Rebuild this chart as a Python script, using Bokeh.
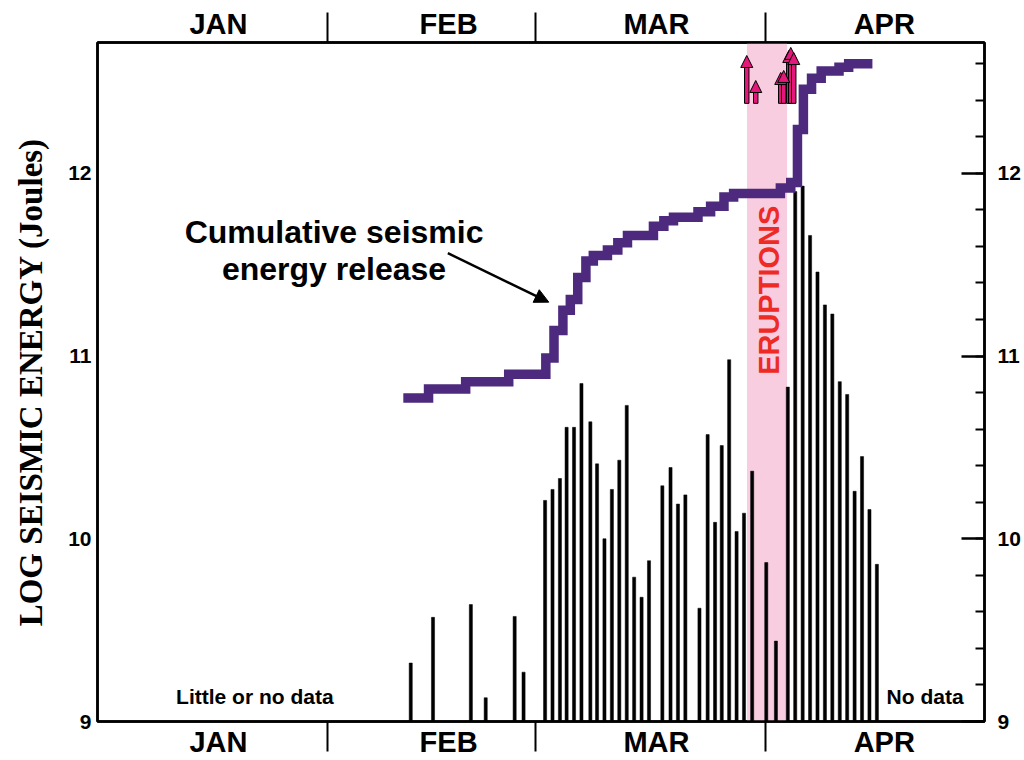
import numpy as np
from bokeh.plotting import figure
from bokeh.models import (Range1d, LinearAxis, FixedTicker, SingleIntervalTicker,
                          ColumnDataSource, Arrow, NormalHead, BoxAnnotation)
from bokeh.core.properties import value
from bokeh.embed import file_html
from bokeh.resources import INLINE

# ---------------- data (x = days counted from 1 January) ----------------
month_names = ["JAN", "FEB", "MAR", "APR"]
month_label_days = [16.3, 47.3, 75.3, 106.0]
month_boundaries = [31, 59, 90]

feb_days = [42.2, 45.2, 50.3, 52.3, 56.2, 57.4]
feb_values = [9.32, 9.57, 9.64, 9.13, 9.575, 9.27]

mar_days = [60.3, 61.3, 62.3, 63.2, 64.2, 65.2, 66.4, 67.3, 68.3, 69.3, 70.3,
            71.3, 72.3, 73.3, 74.3, 76.1, 77.2, 78.2, 79.2, 81.1, 82.2, 83.2,
            84.1, 85.1, 86.1, 87.1, 88.2, 90.1, 91.4]
mar_values = [10.21, 10.27, 10.33, 10.61, 10.61, 10.85, 10.64, 10.41, 10.00,
              10.27, 10.43, 10.73, 9.79, 9.68, 9.88, 10.29, 10.39, 10.19, 10.24,
              9.62, 10.57, 10.09, 10.51, 10.98, 10.04, 10.14, 10.37, 9.87, 9.44]

apr_days = [93.0, 94.0, 95.0, 96.0, 97.0, 98.0, 99.0, 100.0, 101.0, 102.0,
            103.0, 104.0, 105.0]
apr_values = [10.83, 11.90, 11.93, 11.66, 11.46, 11.28, 11.23, 10.86, 10.79,
              10.26, 10.45, 10.16, 9.86]

cum_days = [41.2, 44.6, 49.6, 55.4, 60.4, 61.5, 62.7, 63.7, 64.7, 65.8, 66.8,
            68.7, 70.1, 71.4, 74.9, 76.3, 77.6, 80.9, 82.6, 84.4, 85.7, 92.0,
            93.4, 94.3, 95.1, 96.2, 97.5, 99.9, 101.2, 104.4]
cum_values = [10.77, 10.82, 10.86, 10.90, 10.99, 11.14, 11.25, 11.31, 11.43,
              11.52, 11.55, 11.58, 11.62, 11.66, 11.71, 11.74, 11.76, 11.79,
              11.82, 11.87, 11.89, 11.92, 11.95, 12.24, 12.46, 12.52, 12.56,
              12.58, 12.60, 12.60]

eruption_start = 87.5
eruption_end = 92.9
eruption_arrow_days = [87.47, 88.68, 92.05, 92.45, 93.13, 93.40, 93.80]
eruption_arrow_tips = [12.645, 12.508, 12.552, 12.563, 12.672, 12.689, 12.661]
eruption_arrow_base = 12.383

Y_MIN, Y_MAX = 9.0, 12.716
X_MIN, X_MAX = 0.0, 119.5

PURPLE = "#4E2A7E"
PINK_BAND = "#F8CDE0"
ARROW_PINK = "#E3187A"
RED = "#EE2A24"
SANS = "Liberation Sans"

p = figure(width=1024, height=760,
           x_range=Range1d(X_MIN, X_MAX), y_range=Range1d(Y_MIN, Y_MAX),
           output_backend="svg", toolbar_location=None,
           x_axis_location=None, y_axis_location="left",
           min_border_left=97, min_border_right=40,
           min_border_top=42, min_border_bottom=38)
p.grid.grid_line_color = None
p.outline_line_color = "black"
p.outline_line_width = 2.5
p.background_fill_color = "white"

# left axis
ya = p.yaxis[0]
ya.ticker = SingleIntervalTicker(interval=1, num_minor_ticks=5)
ya.major_tick_in = 0
ya.major_tick_out = 0
ya.minor_tick_in = 0
ya.minor_tick_out = 0
ya.axis_line_width = 2.5
ya.major_label_text_font = SANS
ya.major_label_text_font_style = "bold"
ya.major_label_text_font_size = "21px"
ya.major_label_text_color = "black"
ya.major_label_standoff = 6
ya.axis_label = "LOG SEISMIC ENERGY (Joules)"
ya.axis_label_text_font = "Liberation Serif"
ya.axis_label_text_font_style = "bold"
ya.axis_label_text_font_size = "33px"
ya.axis_label_text_color = "black"
ya.axis_label_standoff = 16

# right axis
ra = LinearAxis(ticker=SingleIntervalTicker(interval=1, num_minor_ticks=5),
                major_tick_in=23, major_tick_out=0,
                minor_tick_in=9, minor_tick_out=0,
                major_tick_line_width=2.5, minor_tick_line_width=2,
                axis_line_width=2.5,
                major_label_text_font=SANS, major_label_text_font_style="bold",
                major_label_text_font_size="21px", major_label_text_color="black",
                major_label_standoff=13)
p.add_layout(ra, "right")

# month axes (top and bottom): labels at month centres, dividers as minor ticks
month_overrides = {d: name for d, name in zip(month_label_days, month_names)}
for side, standoff in (("above", -27), ("below", -26)):
    ax = LinearAxis(ticker=FixedTicker(ticks=month_label_days, minor_ticks=month_boundaries),
                    major_tick_out=0, major_tick_in=0,
                    minor_tick_out=30, minor_tick_in=0,
                    minor_tick_line_width=2, minor_tick_line_color="black",
                    axis_line_width=2.5,
                    major_label_overrides=month_overrides,
                    major_label_text_font=SANS, major_label_text_font_style="bold",
                    major_label_text_font_size="29px", major_label_text_color="black",
                    major_label_standoff=standoff)
    p.add_layout(ax, side)

# eruption band
p.add_layout(BoxAnnotation(left=eruption_start, right=eruption_end,
                           fill_color=PINK_BAND, fill_alpha=1.0,
                           line_color=None, level="underlay"))

# daily energy bars
p.vbar(x=feb_days + mar_days + apr_days, top=feb_values + mar_values + apr_values,
       bottom=Y_MIN, width=0.42, fill_color="black", line_color="black", line_width=0.5)

# cumulative energy release step line
p.step(x=cum_days, y=cum_values, mode="after", line_width=9.5,
       line_color=PURPLE, line_join="miter", line_cap="butt")

# eruption arrows: shafts + heads
shaft_w = 0.3
p.quad(left=[d - shaft_w for d in eruption_arrow_days],
       right=[d + shaft_w for d in eruption_arrow_days],
       bottom=[eruption_arrow_base] * len(eruption_arrow_days),
       top=[t - 0.03 for t in eruption_arrow_tips],
       fill_color=ARROW_PINK, line_color="black", line_width=1)
head_src = ColumnDataSource(dict(
    x0=eruption_arrow_days, x1=eruption_arrow_days,
    y0=[t - 0.04 for t in eruption_arrow_tips], y1=eruption_arrow_tips))
p.add_layout(Arrow(source=head_src, x_start="x0", y_start="y0", x_end="x1", y_end="y1",
                   line_alpha=0,
                   end=NormalHead(size=12, fill_color=ARROW_PINK,
                                  line_color="black", line_width=1)))

# annotation texts
p.text(x=[31.87, 31.87], y=[11.678, 11.476],
       text=["Cumulative seismic", "energy release"],
       text_font=value(SANS), text_font_style="bold", text_font_size="32px",
       text_align="center", text_baseline="alphabetic", text_color="black")
p.add_layout(Arrow(x_start=47.2, y_start=11.563, x_end=60.8, y_end=11.295,
                   line_width=2.5, line_color="black",
                   end=NormalHead(size=14, fill_color="black", line_color="black")))

p.text(x=[90.4], y=[11.36], text=["ERUPTIONS"], angle=np.pi / 2,
       text_font=value(SANS), text_font_style="bold", text_font_size="29px",
       text_align="center", text_baseline="middle", text_color=RED)

p.text(x=[21.2, 111.5], y=[9.137, 9.137], text=["Little or no data", "No data"],
       text_font=value(SANS), text_font_style="bold", text_font_size="21px",
       text_align="center", text_baseline="alphabetic", text_color="black")

open("out.html", "w").write(file_html(p, INLINE))
